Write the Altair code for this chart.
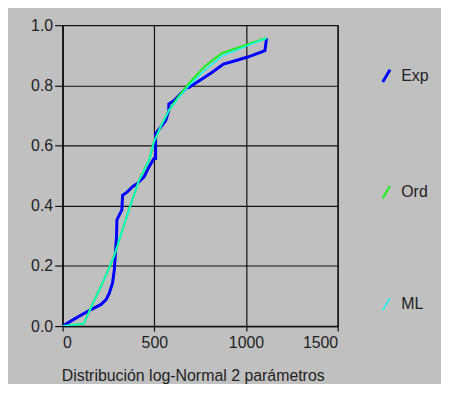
import altair as alt
import pandas as pd

# Empirical (Exp) curve
exp_x = [0, 65, 155, 210, 237, 255, 272, 282, 289, 294, 296, 309, 323, 327, 353, 381, 408,
         444, 471, 498, 507, 507, 521, 562, 579, 579, 606, 643, 678, 688, 760, 814, 877, 941,
         1013, 1103, 1112]
exp_y = [0.0, 0.024, 0.055, 0.072, 0.088, 0.11, 0.143, 0.187, 0.253, 0.30, 0.353, 0.369, 0.386,
         0.435, 0.446, 0.463, 0.474, 0.496, 0.529, 0.557, 0.557, 0.639, 0.650, 0.683, 0.716,
         0.738, 0.749, 0.772, 0.793, 0.793, 0.821, 0.843, 0.871, 0.882, 0.895, 0.915, 0.957]

# Method of moments (Ord) fitted curve
ord_x = [0, 115, 165, 230, 282, 363, 417, 471, 498, 540, 579, 630, 678, 697, 778, 868, 995, 1112]
ord_y = [0.0, 0.008, 0.075, 0.16, 0.235, 0.39, 0.485, 0.55, 0.612, 0.67, 0.716, 0.762, 0.797,
         0.812, 0.865, 0.907, 0.933, 0.957]

# Maximum likelihood (ML) fitted curve
ml_x = [0, 115, 165, 230, 282, 363, 417, 471, 498, 540, 579, 630, 678, 697, 778, 868, 995, 1112]
ml_y = [0.0, 0.008, 0.075, 0.16, 0.235, 0.39, 0.485, 0.55, 0.612, 0.67, 0.716, 0.757, 0.791,
        0.804, 0.852, 0.897, 0.929, 0.957]

series = ["Exp", "Ord", "ML"]
colors = ["#0000ff", "#22ee22", "#00ffff"]
widths = [3, 1.3, 1.3]

x_ticks = [0, 500, 1000, 1500]
y_ticks = [0.0, 0.2, 0.4, 0.6, 0.8, 1.0]

rows = []
for name, xs, ys in [("Exp", exp_x, exp_y), ("Ord", ord_x, ord_y), ("ML", ml_x, ml_y)]:
    for i, (a, b) in enumerate(zip(xs, ys)):
        rows.append({"serie": name, "x": a, "y": b, "i": i})
df = pd.DataFrame(rows)

FONT = "Liberation Sans"
TXT = "#222222"
FS = 16

legend = alt.Legend(
    title=None, orient="none", legendX=318, legendY=43, direction="vertical",
    rowPadding=93, symbolType="M-0.6,1L0.6,-1", symbolSize=150,
    labelFontSize=FS, labelFont=FONT, labelColor=TXT, labelOffset=7, padding=0,
)

base = alt.Chart(df).mark_line(clip=True).encode(
    x=alt.X("x:Q", scale=alt.Scale(domain=[0, 1500], nice=False),
            axis=alt.Axis(values=x_ticks, format="d", tickSize=5, labelPadding=4,
                          title="Distribución log-Normal 2 parámetros",
                          titleX=131, titleY=42, titleBaseline="top",
                          titleFontWeight="normal", titleFontSize=FS, titleFont=FONT,
                          titleColor=TXT)),
    y=alt.Y("y:Q", scale=alt.Scale(domain=[0, 1], nice=False),
            axis=alt.Axis(values=y_ticks, format=".1f", tickSize=8, labelPadding=2, title=None)),
    color=alt.Color("serie:N", scale=alt.Scale(domain=series, range=colors), legend=legend),
    strokeWidth=alt.StrokeWidth("serie:N", scale=alt.Scale(domain=series, range=widths),
                                legend=legend),
    order="i:Q",
)

layers = [base.transform_filter(alt.datum.serie == s) for s in series]

chart = alt.layer(*layers).properties(
    width=277, height=303,
    autosize=alt.AutoSizeParams(type="none"),
    padding={"left": 55, "top": 16, "right": 104, "bottom": 57},
    background="#c0c0c0",
).configure_view(
    stroke="#111111", strokeWidth=1.2, fill="#c0c0c0",
).configure_axis(
    grid=True, gridColor="#111111", gridWidth=1.2, gridOpacity=1,
    domainColor="#111111", domainWidth=1.2, tickColor="#111111", tickWidth=1.2,
    labelFont=FONT, labelFontSize=FS, labelColor=TXT,
)

chart.save("out.html", embed_options={"renderer": "svg", "actions": False})
